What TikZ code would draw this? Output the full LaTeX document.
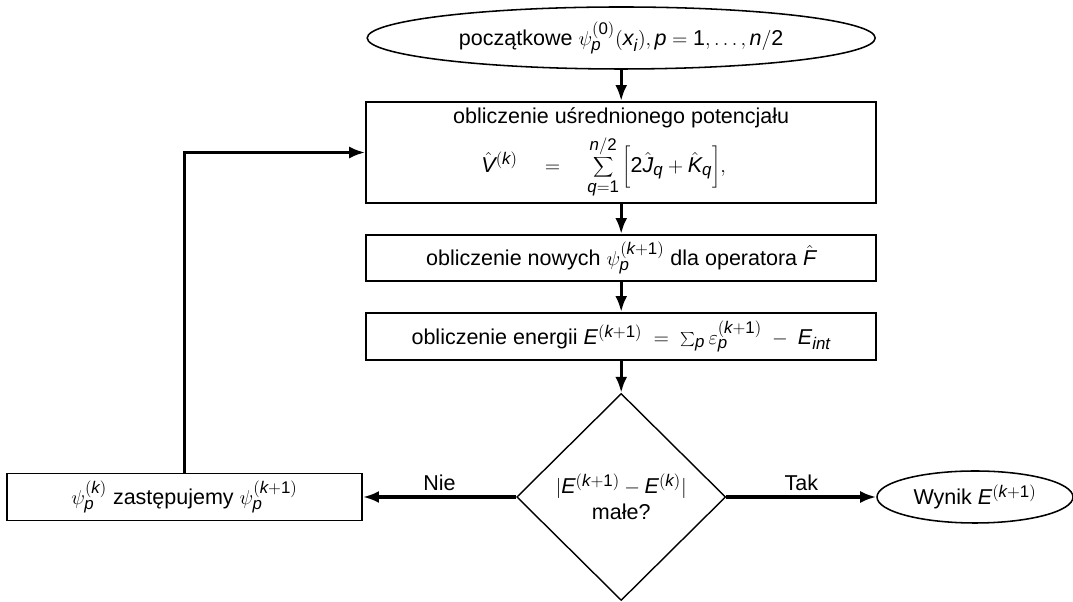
\documentclass[tikz,border=0pt]{standalone}
\usepackage{mathspec}
\setmainfont{Liberation Sans}
\setmathsfont(Latin,Digits){Liberation Sans}
\DeclareMathSizes{15.3}{15.3}{12}{9}
\newcommand\lbrk{\delimiter"405B302 }
\newcommand\rbrk{\delimiter"505D303 }
\usetikzlibrary{shapes.geometric,arrows.meta}

\begin{document}
\begin{tikzpicture}[font=\fontsize{15.3}{18.4}\selectfont,
    box/.style={rectangle,draw,line width=1.4pt,align=center},
    decision/.style={diamond,draw,line width=1pt,inner sep=0pt,align=center,
      minimum width=5.225cm,minimum height=5.175cm},
    terminal/.style={ellipse,draw,line width=1.1pt,inner sep=0pt},
    line/.style={line width=2.2pt,-{Latex[length=0.4cm,width=0.3cm]}}]
    \useasboundingbox (0,0) rectangle (26.825,15.05);
    \node[terminal,minimum width=12.7cm,minimum height=1.55cm] (start) at (15.53,14.1)
      {początkowe $\psi_p^{(0)}(x_i), p=1,\ldots,n/2$};
    \node[box,minimum width=12.75cm,minimum height=2.525cm] (avg) at (15.53,11.2375)
      {obliczenie uśrednionego potencjału\\[5pt]
       $\displaystyle\hat{V}^{(k)}\quad=\quad\sum_{q=1}^{n/2}\left\lbrk\rule[-0.39cm]{0pt}{1.05cm}2\hat{J}_q+\hat{K}_q\right\rbrk\!,$\hspace*{0.875cm}};
    \node[box,minimum width=12.75cm,minimum height=1.15cm] (nowe) at (15.53,8.6)
      {obliczenie nowych $\psi_p^{(k+1)}$ dla operatora $\hat{F}$};
    \node[box,minimum width=12.75cm,minimum height=1.175cm] (energia) at (15.53,6.6375)
      {obliczenie energii $E^{(k+1)}\;=\;\sum_p\varepsilon_p^{(k+1)}\;-\;E_{int}$};
    \node[decision] (test) at (15.53,2.625)
      {$|E^{(k+1)}-E^{(k)}|$\\małe?};
    \node[box,minimum width=8.875cm,minimum height=1.175cm] (zamiana) at (4.6125,2.625)
      {$\psi_p^{(k)}$ zastępujemy $\psi_p^{(k+1)}$};
    \node[terminal,minimum width=4.9cm,minimum height=1.3cm] (wynik) at (24.375,2.625)
      {Wynik $E^{(k+1)}$};
    % polaczenia
    \draw[line] (start) -- (avg);
    \draw[line] (avg) -- (nowe);
    \draw[line] (nowe) -- (energia);
    \draw[line] (energia) -- (test);
    \draw[line] (test) -- node[above] {Tak} (wynik);
    \draw[line] (test) -- node[above] {Nie} (zamiana);
    \draw[line] (zamiana.north) |- (avg.west);
\end{tikzpicture}
\end{document}
